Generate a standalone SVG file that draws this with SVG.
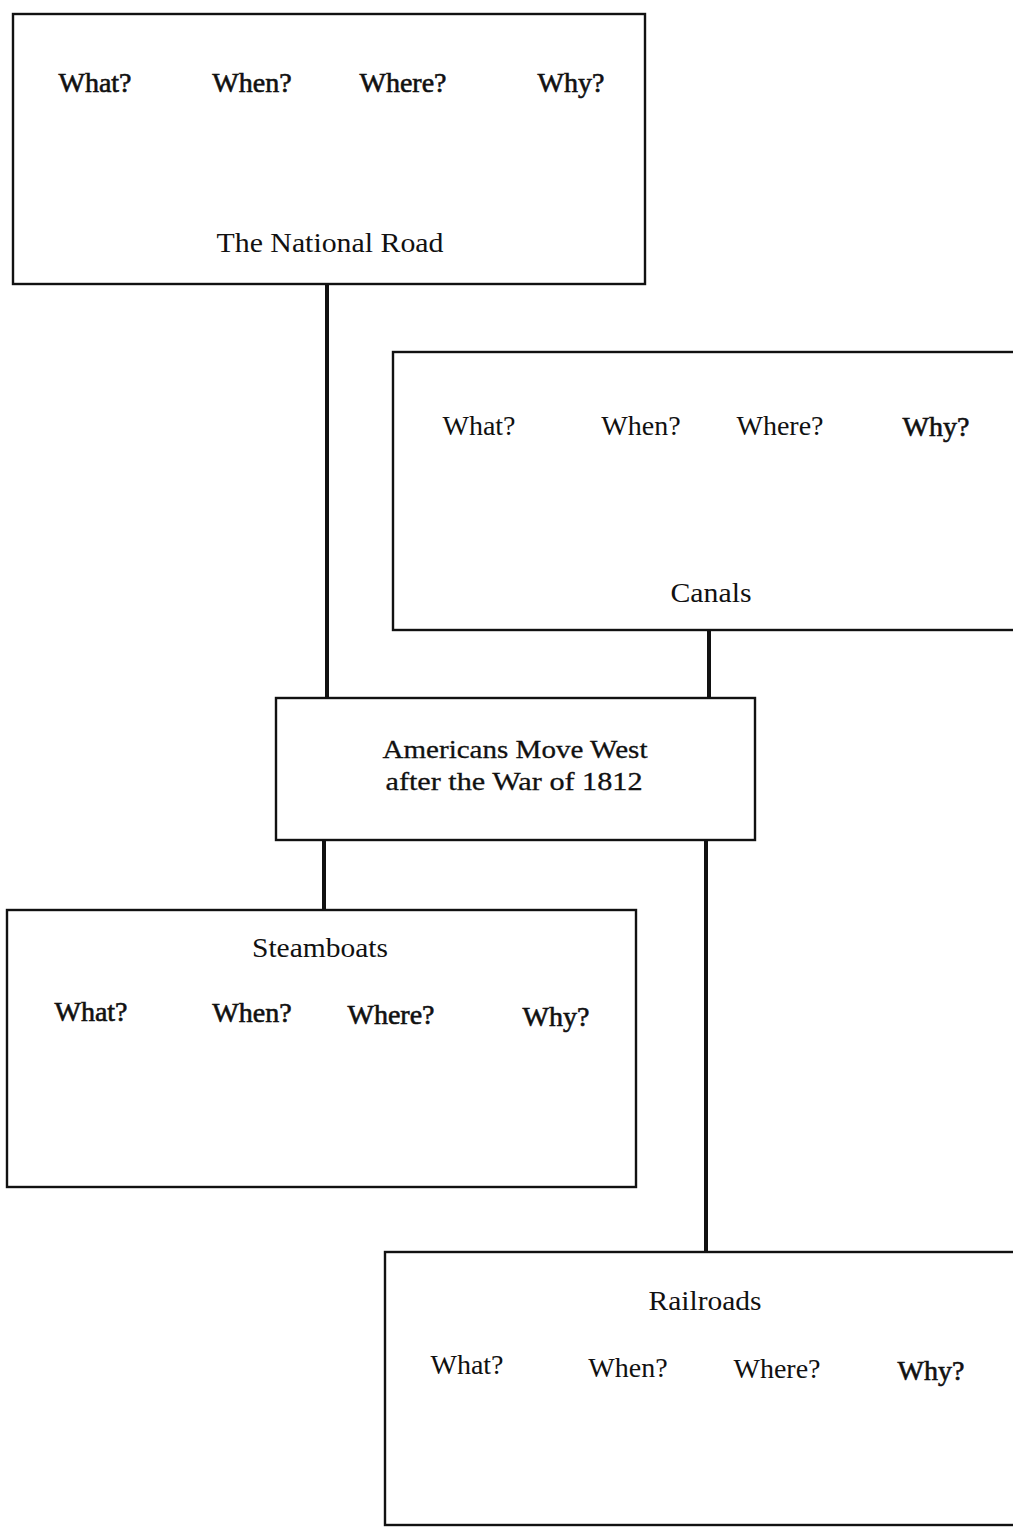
<svg xmlns="http://www.w3.org/2000/svg" width="1013" height="1530" viewBox="0 0 1013 1530">
<style>
.box{fill:none;stroke:#111;stroke-width:2.4}
.con{stroke:#111;stroke-width:4;fill:none}
.t{font-family:"Liberation Serif","Times New Roman",serif;font-size:28px;fill:#111;text-anchor:middle}
.q{stroke:#111;stroke-width:0.6}
.c{font-family:"Liberation Serif","Times New Roman",serif;font-size:26px;fill:#111;text-anchor:middle;stroke:#111;stroke-width:0.3}
</style>
<rect width="1013" height="1530" fill="#fff"/>
<g id="connectors">
<line class="con" x1="327" y1="284" x2="327" y2="698"/>
<line class="con" x1="709" y1="630" x2="709" y2="698"/>
<line class="con" x1="324" y1="840" x2="324" y2="910"/>
<line class="con" x1="706" y1="840" x2="706" y2="1252"/>
</g>
<g id="national-road">
<rect class="box" x="13" y="14" width="632" height="270"/>
<text class="t q" x="95" y="92">What?</text>
<text class="t q" x="252" y="92">When?</text>
<text class="t q" x="403" y="92">Where?</text>
<text class="t q" x="571" y="92">Why?</text>
<text class="t" x="330" y="252" textLength="227" lengthAdjust="spacingAndGlyphs">The National Road</text>
</g>
<g id="canals">
<rect class="box" x="393" y="352" width="640" height="278"/>
<text class="t" x="479" y="435">What?</text>
<text class="t" x="641" y="435">When?</text>
<text class="t" x="780" y="435">Where?</text>
<text class="t q" x="936" y="436">Why?</text>
<text class="t" x="711" y="602" textLength="81" lengthAdjust="spacingAndGlyphs">Canals</text>
</g>
<g id="americans-move-west">
<rect class="box" x="276" y="698" width="479" height="142"/>
<text class="c" x="515" y="758" textLength="265" lengthAdjust="spacingAndGlyphs">Americans Move West</text>
<text class="c" x="514" y="790" textLength="257" lengthAdjust="spacingAndGlyphs">after the War of 1812</text>
</g>
<g id="steamboats">
<rect class="box" x="7" y="910" width="629" height="277"/>
<text class="t" x="320" y="957" textLength="136" lengthAdjust="spacingAndGlyphs">Steamboats</text>
<text class="t q" x="91" y="1021">What?</text>
<text class="t q" x="252" y="1022">When?</text>
<text class="t q" x="391" y="1024">Where?</text>
<text class="t q" x="556" y="1026">Why?</text>
</g>
<g id="railroads">
<rect class="box" x="385" y="1252" width="650" height="273"/>
<text class="t" x="705" y="1310" textLength="113" lengthAdjust="spacingAndGlyphs">Railroads</text>
<text class="t" x="467" y="1374">What?</text>
<text class="t" x="628" y="1377">When?</text>
<text class="t" x="777" y="1378">Where?</text>
<text class="t q" x="931" y="1380">Why?</text>
</g>
</svg>
